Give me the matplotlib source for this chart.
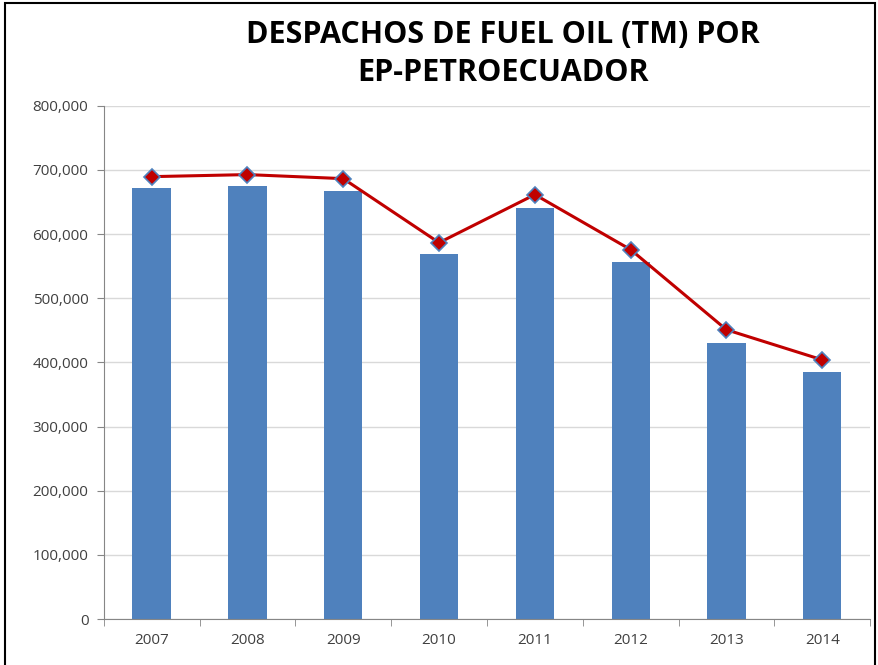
import numpy as np
import matplotlib.pyplot as plt
from matplotlib.ticker import FuncFormatter, MultipleLocator
from matplotlib.patches import Rectangle

years = ['2007', '2008', '2009', '2010', '2011', '2012', '2013', '2014']
despachos = [672000, 675500, 667700, 569400, 641200, 557000, 430600, 385300]
linea = [689500, 692700, 686400, 586600, 661500, 575700, 450900, 404000]

plt.rcParams['font.family'] = ['Liberation Sans Narrow', 'Open Sans', 'DejaVu Sans']

fig = plt.figure(figsize=(8.79, 6.65), dpi=100)
ax = fig.add_axes([0.118, 0.069, 0.872, 0.772])

x = np.arange(len(years))
ax.bar(x, despachos, width=0.4, color='#4F81BD', zorder=2)
ax.plot(x, linea, '-', color='#C00000', lw=2.2, marker='D', ms=8,
        markerfacecolor='#C00000', markeredgecolor='#4F81BD', markeredgewidth=1.2, zorder=3)

ax.set_xlim(-0.5, len(years) - 0.5)
ax.set_ylim(0, 800000)
ax.yaxis.set_major_locator(MultipleLocator(100000))
ax.yaxis.set_major_formatter(FuncFormatter(lambda v, p: '{:,.0f}'.format(v)))
ax.set_xticks(x)
ax.set_xticklabels(years)
ax.set_xticks(np.arange(-0.5, len(years)), minor=True)
ax.tick_params(axis='x', which='major', length=0, pad=10, labelsize=11, labelcolor='#404040')
ax.tick_params(axis='x', which='minor', length=5, color='#868686')
ax.tick_params(axis='y', length=5, color='#868686', labelsize=11, labelcolor='#404040', pad=6)

ax.grid(axis='y', color='#D9D9D9', lw=1, zorder=0)
ax.set_axisbelow(True)
for s in ['top', 'right']:
    ax.spines[s].set_visible(False)
ax.spines['left'].set_color('#868686')
ax.spines['bottom'].set_color('#868686')

fig.text(0.572, 0.919, 'DESPACHOS DE FUEL OIL (TM) POR\nEP-PETROECUADOR', ha='center', va='center',
         fontsize=22, fontweight='bold', linespacing=1.35)

fig.patches.append(Rectangle((0.006, -0.01), 0.99, 1.005, transform=fig.transFigure,
                             fill=False, edgecolor='black', lw=1.5))

plt.savefig('out.png', dpi=100)
